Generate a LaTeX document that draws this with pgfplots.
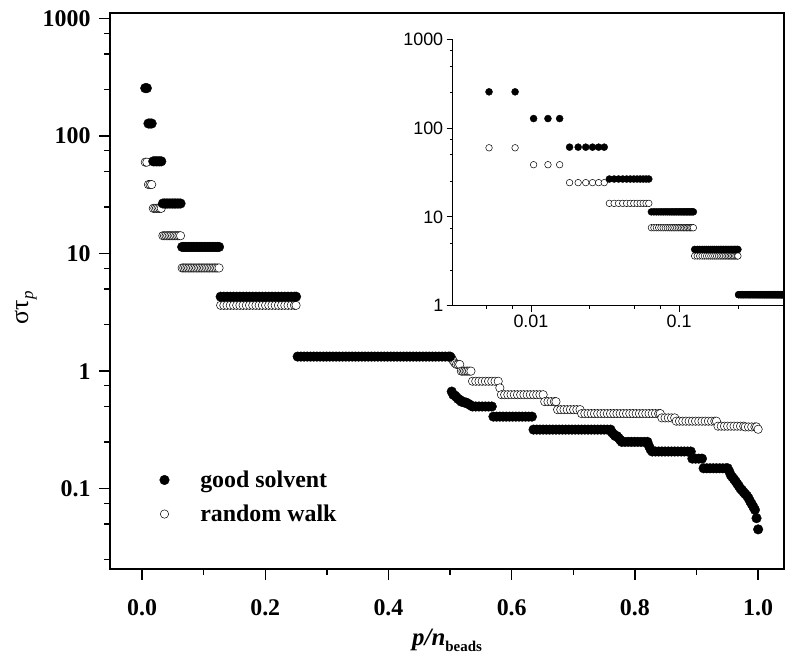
\documentclass[border=0pt]{standalone}
\usepackage{pgfplots}
\pgfplotsset{compat=1.18}
\usepackage{pgfplotstable}
\usepackage{fontspec}
\setmainfont{Liberation Serif}
\newfontfamily\arialf{Liberation Sans}

% good solvent: p (bead index, n_beads = 384), tau
\pgfplotstableread[row sep=\\]{
p t\\
2 256\\ 3 256\\ 4 128\\ 5 128\\ 6 128\\
7 61\\ 8 61\\ 9 61\\ 10 61\\ 11 61\\ 12 61\\
13 26.7\\ 14 26.7\\ 15 26.7\\ 16 26.7\\ 17 26.7\\ 18 26.7\\ 19 26.7\\ 20 26.7\\ 21 26.7\\ 22 26.7\\ 23 26.7\\ 24 26.7\\
25 11.4\\ 26 11.4\\ 27 11.4\\ 28 11.4\\ 29 11.4\\ 30 11.4\\ 31 11.4\\ 32 11.4\\ 33 11.4\\ 34 11.4\\ 35 11.4\\ 36 11.4\\
37 11.4\\ 38 11.4\\ 39 11.4\\ 40 11.4\\ 41 11.4\\ 42 11.4\\ 43 11.4\\ 44 11.4\\ 45 11.4\\ 46 11.4\\ 47 11.4\\ 48 11.4\\
49 4.3\\ 51 4.3\\ 53 4.3\\ 55 4.3\\ 57 4.3\\ 59 4.3\\ 61 4.3\\ 63 4.3\\ 65 4.3\\ 67 4.3\\ 69 4.3\\ 71 4.3\\
73 4.3\\ 75 4.3\\ 77 4.3\\ 79 4.3\\ 81 4.3\\ 83 4.3\\ 85 4.3\\ 87 4.3\\ 89 4.3\\ 91 4.3\\ 93 4.3\\ 95 4.3\\ 96 4.3\\
97 1.33\\ 99 1.33\\ 101 1.33\\ 103 1.33\\ 105 1.33\\ 107 1.33\\ 109 1.33\\ 111 1.33\\ 113 1.33\\ 115 1.33\\ 117 1.33\\ 119 1.33\\
121 1.33\\ 123 1.33\\ 125 1.33\\ 127 1.33\\ 129 1.33\\ 131 1.33\\ 133 1.33\\ 135 1.33\\ 137 1.33\\ 139 1.33\\ 141 1.33\\ 143 1.33\\
145 1.33\\ 147 1.33\\ 149 1.33\\ 151 1.33\\ 153 1.33\\ 155 1.33\\ 157 1.33\\ 159 1.33\\ 161 1.33\\ 163 1.33\\ 165 1.33\\ 167 1.33\\
169 1.33\\ 171 1.33\\ 173 1.33\\ 175 1.33\\ 177 1.33\\ 179 1.33\\ 181 1.33\\ 183 1.33\\ 185 1.33\\ 187 1.33\\ 189 1.33\\ 191 1.33\\ 192 1.33\\
193 0.67\\ 194 0.63\\ 195 0.62\\ 196 0.60\\ 197 0.58\\ 198 0.57\\ 199 0.55\\ 200 0.55\\ 201 0.54\\ 202 0.54\\ 203 0.53\\ 204 0.52\\ 205 0.51\\
206 0.50\\ 208 0.50\\ 210 0.50\\ 212 0.50\\ 214 0.50\\ 216 0.50\\ 218 0.50\\
219 0.41\\ 221 0.41\\ 223 0.41\\ 225 0.41\\ 227 0.41\\ 229 0.41\\ 231 0.41\\ 233 0.41\\ 235 0.41\\ 237 0.41\\ 239 0.41\\ 241 0.41\\ 243 0.41\\
244 0.318\\ 246 0.318\\ 248 0.318\\ 250 0.318\\ 252 0.318\\ 254 0.318\\ 256 0.318\\ 258 0.318\\ 260 0.318\\ 262 0.318\\ 264 0.318\\ 266 0.318\\ 268 0.318\\
270 0.318\\ 272 0.318\\ 274 0.318\\ 276 0.318\\ 278 0.318\\ 280 0.318\\ 282 0.318\\ 284 0.318\\ 286 0.318\\ 288 0.318\\ 290 0.318\\ 292 0.318\\
293 0.30\\ 294 0.29\\ 295 0.28\\ 296 0.28\\ 297 0.27\\ 298 0.26\\
299 0.25\\ 301 0.25\\ 303 0.25\\ 305 0.25\\ 307 0.25\\ 309 0.25\\ 311 0.25\\ 313 0.25\\ 315 0.25\\
316 0.23\\ 317 0.215\\
318 0.207\\ 320 0.207\\ 322 0.207\\ 324 0.207\\ 326 0.207\\ 328 0.207\\ 330 0.207\\ 332 0.207\\ 334 0.207\\ 336 0.207\\ 338 0.207\\ 340 0.207\\ 342 0.207\\
343 0.18\\ 345 0.18\\ 347 0.18\\ 349 0.18\\
350 0.149\\ 352 0.149\\ 354 0.149\\ 356 0.149\\ 358 0.149\\ 360 0.149\\ 362 0.149\\ 364 0.149\\ 365 0.149\\
366 0.14\\ 367 0.13\\ 368 0.125\\ 369 0.12\\ 370 0.115\\ 371 0.11\\ 372 0.105\\ 373 0.10\\ 374 0.097\\ 375 0.093\\
376 0.09\\ 377 0.087\\ 378 0.083\\ 379 0.078\\ 380 0.074\\ 381 0.07\\ 382 0.066\\ 383 0.056\\ 384 0.045\\
}\gs

% random walk
\pgfplotstableread[row sep=\\]{
p t\\
2 60\\ 3 60\\ 4 38.7\\ 5 38.7\\ 6 38.7\\
7 24.3\\ 8 24.3\\ 9 24.3\\ 10 24.3\\ 11 24.3\\ 12 24.3\\
13 14.2\\ 14 14.2\\ 15 14.2\\ 16 14.2\\ 17 14.2\\ 18 14.2\\ 19 14.2\\ 20 14.2\\ 21 14.2\\ 22 14.2\\ 23 14.2\\ 24 14.2\\
25 7.55\\ 26 7.55\\ 27 7.55\\ 28 7.55\\ 29 7.55\\ 30 7.55\\ 31 7.55\\ 32 7.55\\ 33 7.55\\ 34 7.55\\ 35 7.55\\ 36 7.55\\
37 7.55\\ 38 7.55\\ 39 7.55\\ 40 7.55\\ 41 7.55\\ 42 7.55\\ 43 7.55\\ 44 7.55\\ 45 7.55\\ 46 7.55\\ 47 7.55\\ 48 7.55\\
49 3.63\\ 51 3.63\\ 53 3.63\\ 55 3.63\\ 57 3.63\\ 59 3.63\\ 61 3.63\\ 63 3.63\\ 65 3.63\\ 67 3.63\\ 69 3.63\\ 71 3.63\\
73 3.63\\ 75 3.63\\ 77 3.63\\ 79 3.63\\ 81 3.63\\ 83 3.63\\ 85 3.63\\ 87 3.63\\ 89 3.63\\ 91 3.63\\ 93 3.63\\ 95 3.63\\ 96 3.63\\
97 1.33\\ 101 1.33\\ 105 1.33\\ 109 1.33\\ 113 1.33\\ 117 1.33\\ 121 1.33\\ 125 1.33\\ 129 1.33\\ 133 1.33\\ 137 1.33\\ 141 1.33\\
145 1.33\\ 149 1.33\\ 153 1.33\\ 157 1.33\\ 161 1.33\\ 165 1.33\\ 169 1.33\\ 173 1.33\\ 177 1.33\\ 181 1.33\\ 185 1.33\\ 189 1.33\\ 192 1.33\\
193 1.30\\ 194 1.22\\ 195 1.17\\ 196 1.14\\ 197 1.14\\ 198 1.14\\
199 1.0\\ 200 1.0\\ 201 1.0\\ 202 1.0\\ 203 1.0\\ 204 1.0\\ 205 1.0\\
206 0.82\\ 208 0.82\\ 210 0.82\\ 212 0.82\\ 214 0.82\\ 216 0.82\\ 218 0.82\\ 220 0.82\\ 222 0.82\\
223 0.72\\
224 0.63\\ 226 0.63\\ 228 0.63\\ 230 0.63\\ 232 0.63\\ 234 0.63\\ 236 0.63\\ 238 0.63\\ 240 0.63\\ 242 0.63\\ 244 0.63\\ 246 0.63\\ 248 0.63\\ 250 0.63\\
251 0.55\\ 253 0.55\\ 255 0.55\\ 257 0.55\\ 258 0.55\\
259 0.47\\ 261 0.47\\ 263 0.47\\ 265 0.47\\ 267 0.47\\ 269 0.47\\ 271 0.47\\ 273 0.47\\
274 0.435\\ 276 0.435\\ 278 0.435\\ 280 0.435\\ 282 0.435\\ 284 0.435\\ 286 0.435\\ 288 0.435\\ 290 0.435\\ 292 0.435\\ 294 0.435\\ 296 0.435\\ 298 0.435\\
300 0.435\\ 302 0.435\\ 304 0.435\\ 306 0.435\\ 308 0.435\\ 310 0.435\\ 312 0.435\\ 314 0.435\\ 316 0.435\\ 318 0.435\\ 320 0.435\\ 322 0.435\\ 323 0.435\\
324 0.40\\ 326 0.40\\ 328 0.40\\ 330 0.40\\ 332 0.40\\
333 0.375\\ 335 0.375\\ 337 0.375\\ 339 0.375\\ 341 0.375\\ 343 0.375\\ 345 0.375\\ 347 0.375\\ 349 0.375\\ 351 0.375\\ 353 0.375\\ 355 0.375\\ 357 0.375\\ 358 0.375\\
359 0.34\\ 361 0.34\\ 363 0.34\\ 365 0.34\\ 367 0.34\\ 369 0.34\\ 371 0.34\\ 373 0.34\\ 375 0.34\\
376 0.335\\ 378 0.335\\ 380 0.335\\ 382 0.335\\ 383 0.335\\ 384 0.32\\
}\rw

\begin{document}
\begin{tikzpicture}[x=1bp,y=1bp]
\useasboundingbox (0,0) rectangle (785,668);
\begin{axis}[
  at={(110bp,99bp)}, anchor=south west,
  scale only axis, width=674bp, height=555.7bp,
  ymode=log, xmin=-0.052, xmax=1.042, ymin=0.0207, ymax=1110,
  xtick={0,0.2,0.4,0.6,0.8,1}, xticklabels={0.0,0.2,0.4,0.6,0.8,1.0},
  minor xtick={0.1,0.3,0.5,0.7,0.9},
  ytick={0.1,1,10,100,1000}, yticklabels={0.1,1,10,100,1000},
  minor ytick={0.025,0.05,0.075,0.25,0.5,0.75,2.5,5,7.5,25,50,75,250,500,750},
  tick align=outside, tick pos=left,
  major tick length=11bp, minor tick length=6bp,
  axis line style={line width=1.6bp},
  every tick/.style={line width=1.3bp, black},
  tick label style={font=\fontsize{24}{24}\selectfont\bfseries},
  xticklabel style={yshift=-16bp},
  yticklabel style={xshift=-5bp},
  xlabel={{\fontsize{25}{25}\selectfont\bfseries\itshape p/n}{\fontsize{15}{15}\selectfont\bfseries\raisebox{-6bp}{beads}}},
  ylabel={{\fontsize{26}{26}\selectfont στ}{\fontsize{17}{17}\selectfont\itshape\raisebox{-5bp}{p}}},
  xlabel style={at={(axis description cs:0.5,-0.128)}, anchor=center},
  ylabel style={at={(axis description cs:-0.125,0.47)}, anchor=center},
  reverse legend,
  legend cell align=left,
  legend style={at={(axis description cs:0.069,0.184)}, anchor=north west, draw=none, fill=none,
    font=\fontsize{24}{24}\selectfont\bfseries, row sep=12bp,
    /tikz/every odd column/.append style={column sep=29bp}},
]
\addplot[only marks, mark=*, mark size=4.2bp, mark options={fill=white, draw=black, line width=0.5bp}]
  table[x expr=\thisrow{p}/384, y=t] {\rw};
\addlegendentry{random walk}
\addplot[only marks, mark=*, mark size=4.8bp, mark options={fill=black, draw=black}]
  table[x expr=\thisrow{p}/384, y=t] {\gs};
\addlegendentry{good solvent}
\end{axis}

\begin{axis}[
  at={(452.7bp,362.3bp)}, anchor=south west,
  scale only axis, width=331.3bp, height=266.4bp,
  xmode=log, ymode=log, xmin=0.00296, xmax=0.512, ymin=1, ymax=1000,
  axis x line*=bottom, axis y line*=left,
  xtick={0.01,0.1}, xticklabels={0.01,0.1},
  minor xtick={0.005,0.0075,0.025,0.05,0.075,0.25},
  ytick={1,10,100,1000}, yticklabels={1,10,100,1000},
  minor ytick={2.5,5,7.5,25,50,75,250,500,750},
  tick align=outside,
  major tick length=6bp, minor tick length=3bp,
  axis line style={line width=1bp},
  every tick/.style={line width=0.8bp, black},
  tick label style={font=\arialf\fontsize{18}{18}\selectfont},
]
\addplot[only marks, mark=*, mark size=3.3bp, mark options={fill=white, draw=black, line width=0.5bp}, skip coords between index={97}{1000}]
  table[x expr=\thisrow{p}/384, y=t] {\rw};
\addplot[only marks, mark=*, mark size=3.5bp, mark options={fill=black, draw=black}]
  table[x expr=\thisrow{p}/384, y=t] {\gs};
\end{axis}
\end{tikzpicture}
\end{document}
